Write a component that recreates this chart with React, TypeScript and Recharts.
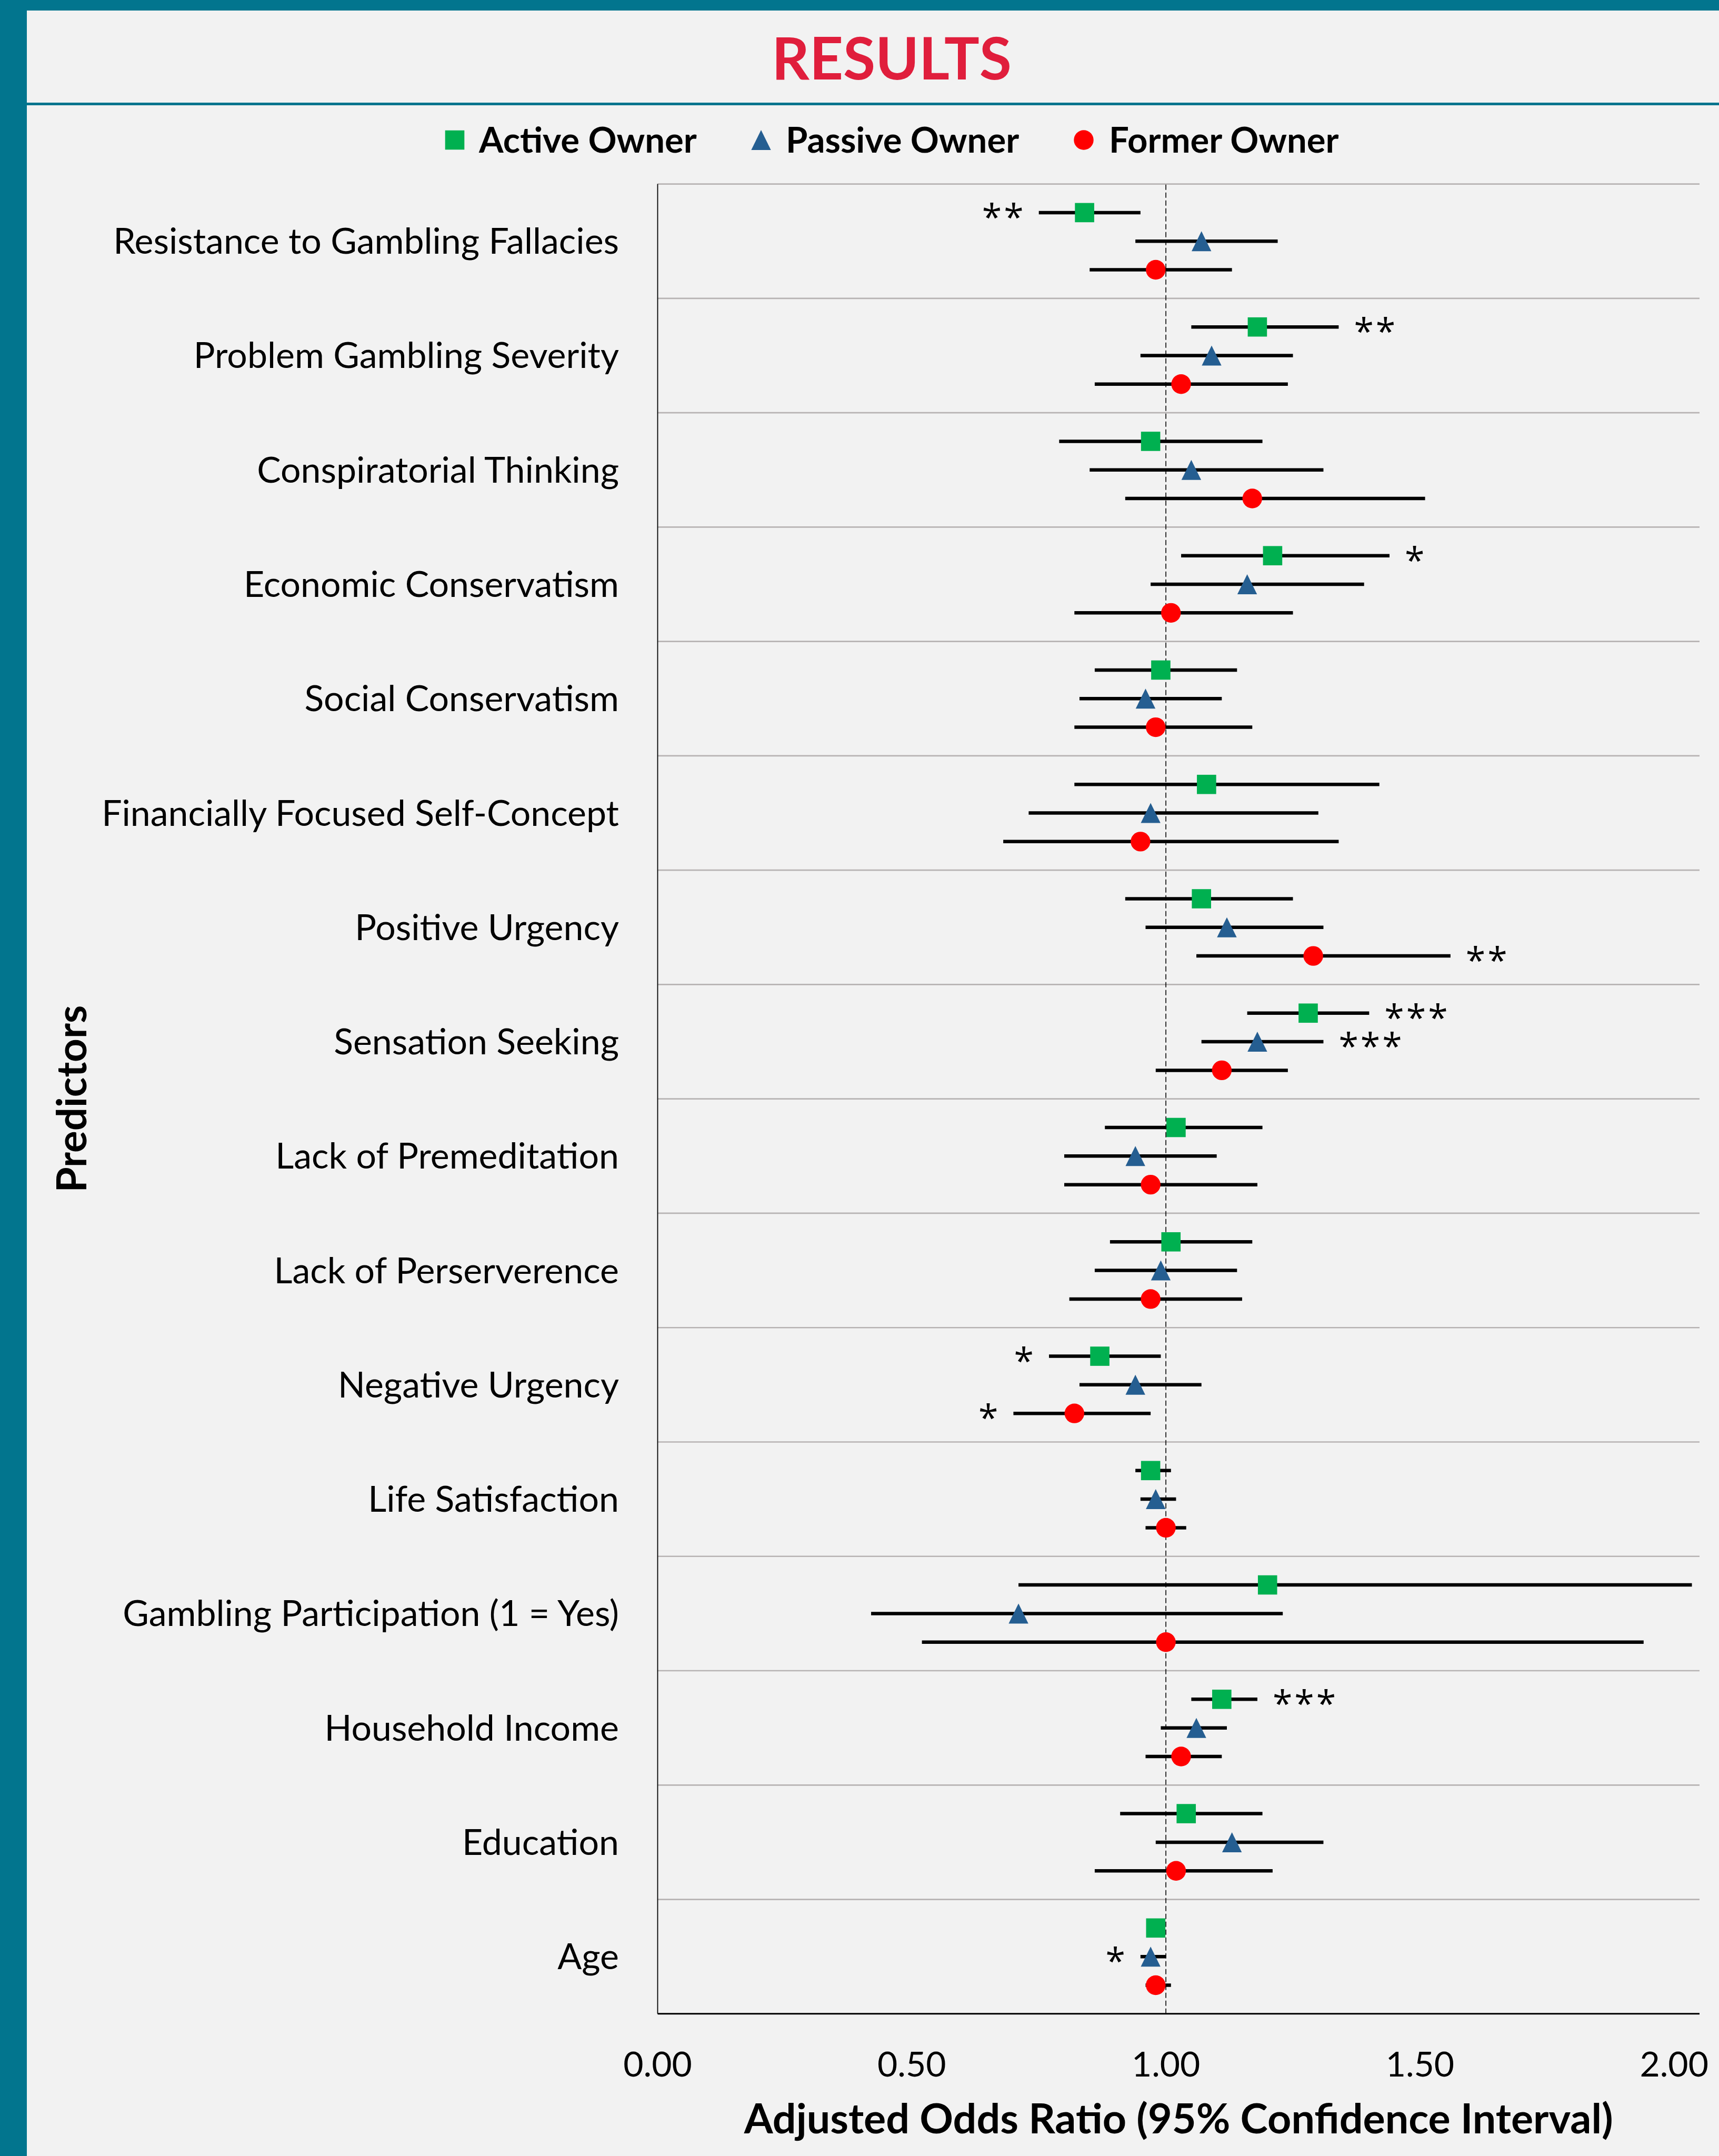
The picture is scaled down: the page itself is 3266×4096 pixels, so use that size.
import { ErrorBar, ReferenceLine, Scatter, ScatterChart, XAxis, YAxis } from 'recharts'

const predictors = [
	'Resistance to Gambling Fallacies',
	'Problem Gambling Severity',
	'Conspiratorial Thinking',
	'Economic Conservatism',
	'Social Conservatism',
	'Financially Focused Self-Concept',
	'Positive Urgency',
	'Sensation Seeking',
	'Lack of Premeditation',
	'Lack of Perserverence',
	'Negative Urgency',
	'Life Satisfaction',
	'Gambling Participation (1 = Yes)',
	'Household Income',
	'Education',
	'Age',
]

const activeOR = [0.84, 1.18, 0.97, 1.21, 0.99, 1.08, 1.07, 1.28, 1.02, 1.01, 0.87, 0.97, 1.2, 1.11, 1.04, 0.98]
const activeLo = [0.75, 1.05, 0.79, 1.03, 0.86, 0.82, 0.92, 1.16, 0.88, 0.89, 0.77, 0.94, 0.71, 1.05, 0.91, 0.965]
const activeHi = [0.95, 1.34, 1.19, 1.44, 1.14, 1.42, 1.25, 1.4, 1.19, 1.17, 0.99, 1.01, 2.035, 1.18, 1.19, 0.995]
const activeSig = ['**', '**', '', '*', '', '', '', '***', '', '', '*', '', '', '***', '', '']

const passiveOR = [1.07, 1.09, 1.05, 1.16, 0.96, 0.97, 1.12, 1.18, 0.94, 0.99, 0.94, 0.98, 0.71, 1.06, 1.13, 0.97]
const passiveLo = [0.94, 0.95, 0.85, 0.97, 0.83, 0.73, 0.96, 1.07, 0.8, 0.86, 0.83, 0.95, 0.42, 0.99, 0.98, 0.95]
const passiveHi = [1.22, 1.25, 1.31, 1.39, 1.11, 1.3, 1.31, 1.31, 1.1, 1.14, 1.07, 1.02, 1.23, 1.12, 1.31, 1.0]
const passiveSig = ['', '', '', '', '', '', '', '***', '', '', '', '', '', '', '', '*']

const formerOR = [0.98, 1.03, 1.17, 1.01, 0.98, 0.95, 1.29, 1.11, 0.97, 0.97, 0.82, 1.0, 1.0, 1.03, 1.02, 0.98]
const formerLo = [0.85, 0.86, 0.92, 0.82, 0.82, 0.68, 1.06, 0.98, 0.8, 0.81, 0.7, 0.96, 0.52, 0.96, 0.86, 0.96]
const formerHi = [1.13, 1.24, 1.51, 1.25, 1.17, 1.34, 1.56, 1.24, 1.18, 1.15, 0.97, 1.04, 1.94, 1.11, 1.21, 1.01]
const formerSig = ['', '', '', '', '', '', '**', '', '', '', '*', '', '', '', '', '']

const xTicks = [0, 0.5, 1, 1.5, 2]

const TEAL = '#02758E'
const GREEN = '#00B050'
const BLUE = '#255E91'
const RED = '#FF0000'
const FONT = 'Lato, "Open Sans", sans-serif'

// each predictor gets 4 units on the y axis, markers sit at 1, 2, 3
const ROW = 4
const series = [
	{ name: 'Active Owner', or: activeOR, lo: activeLo, hi: activeHi, sig: activeSig, slot: 1, color: GREEN },
	{ name: 'Passive Owner', or: passiveOR, lo: passiveLo, hi: passiveHi, sig: passiveSig, slot: 2, color: BLUE },
	{ name: 'Former Owner', or: formerOR, lo: formerLo, hi: formerHi, sig: formerSig, slot: 3, color: RED },
]

const points = series.map((s) =>
	s.or.map((v, i) => ({ x: v, y: i * ROW + s.slot, err: [v - s.lo[i], s.hi[i] - v] })),
)

const STAR_GAP = 0.03
const stars = series.flatMap((s) =>
	s.sig
		.map((sig, i) => ({
			x: s.or[i] < 1 ? s.lo[i] - STAR_GAP : s.hi[i] + STAR_GAP,
			y: i * ROW + s.slot,
			text: sig,
			anchor: s.or[i] < 1 ? 'end' : 'start',
		}))
		.filter((d) => d.text),
)

const yTicks = predictors.map((_, i) => i * ROW + 2)
const rowEdges = predictors.map((_, i) => i * ROW)

const M = 18.3

const Square = (p: any) => <rect x={p.cx - M} y={p.cy - M} width={M * 2} height={M * 2} fill={GREEN} />
const Triangle = (p: any) => (
	<polygon points={`${p.cx},${p.cy - 19} ${p.cx - 18.7},${p.cy + 19} ${p.cx + 18.7},${p.cy + 19}`} fill={BLUE} />
)
const Dot = (p: any) => <circle cx={p.cx} cy={p.cy} r={18.7} fill={RED} />
const shapes = [Square, Triangle, Dot]

const STAR_SPACING = 4
const Star = (p: any) => (
	<text
		x={p.cx}
		y={p.cy}
		dy={33}
		dx={p.payload.anchor === 'end' ? STAR_SPACING : 0}
		textAnchor={p.payload.anchor}
		fontSize={68}
		letterSpacing={STAR_SPACING}
		fontFamily='"Open Sans", sans-serif'
		fill='#000'
	>
		{p.payload.text}
	</text>
)

const YTick = (p: any) => (
	<text x={p.x} y={p.y} dy={24} textAnchor='end' fontSize={68} fontFamily={FONT} fill='#000'>
		{predictors[(p.payload.value - 2) / ROW]}
	</text>
)

const XTick = (p: any) => (
	<text x={p.x} y={p.y} dy={119} textAnchor='middle' fontSize={66} fontFamily={FONT} fill='#000'>
		{p.payload.value.toFixed(2)}
	</text>
)

const App = () => {
	return (
		<div
			style={{
				position: 'absolute',
				left: 0,
				top: 0,
				width: 3266,
				height: 4096,
				background: '#F2F2F2',
				overflow: 'hidden',
				fontFamily: FONT,
			}}
		>
			<div style={{ position: 'absolute', left: 0, top: 0, width: 3266, height: 20, background: TEAL }} />
			<div style={{ position: 'absolute', left: 0, top: 0, width: 50.5, height: 4096, background: TEAL }} />
			<div style={{ position: 'absolute', left: 50.5, top: 194.5, width: 3216, height: 5, background: TEAL }} />
			<svg width={3266} height={360} style={{ position: 'absolute', left: 0, top: 0 }}>
				<text x={1694} y={150.6} textAnchor='middle' fontSize={111.5} fontWeight={700} fill='#E01E3C' fontFamily={FONT}>
					RESULTS
				</text>
				<rect x={864 - M} y={266 - M} width={M * 2} height={M * 2} fill={GREEN} />
				<text x={910} y={290} fontSize={67} fontWeight={700} fontFamily={FONT}>
					Active Owner
				</text>
				<polygon points='1446,247 1427.3,285 1464.7,285' fill={BLUE} />
				<text x={1493} y={290} fontSize={67} fontWeight={700} fontFamily={FONT}>
					Passive Owner
				</text>
				<circle cx={2059} cy={266} r={18.7} fill={RED} />
				<text x={2107} y={290} fontSize={67} fontWeight={700} fontFamily={FONT}>
					Former Owner
				</text>
			</svg>
			<div style={{ position: 'absolute', left: 0, top: 0 }}>
				<ScatterChart width={3266} height={4096} margin={{ top: 349.6, right: 37, bottom: 70.2, left: 50.5 }}>
					<XAxis
						type='number'
						dataKey='x'
						domain={[0, 2.05]}
						ticks={xTicks}
						interval={0}
						height={200}
						tickSize={0}
						tickMargin={0}
						tickLine={false}
						axisLine={{ stroke: '#000', strokeWidth: 3 }}
						tick={<XTick />}
						label={{
							content: ({ viewBox }: any) => (
								<text
									x={viewBox.x + viewBox.width / 2}
									y={viewBox.y + 227}
									textAnchor='middle'
									fontSize={79}
									fontWeight={700}
									fontFamily={FONT}
									fill='#000'
								>
									Adjusted Odds Ratio (95% Confidence Interval)
								</text>
							),
						}}
					/>
					<YAxis
						type='number'
						dataKey='y'
						domain={[0, predictors.length * ROW]}
						reversed
						ticks={yTicks}
						interval={0}
						width={1199}
						tickSize={0}
						tickMargin={73.5}
						tickLine={false}
						axisLine={{ stroke: '#000', strokeWidth: 1.8 }}
						tick={<YTick />}
						label={{
							content: ({ viewBox }: any) => {
								const lx = viewBox.x + 113.5
								const ly = viewBox.y + viewBox.height / 2
								return (
									<text
										x={lx}
										y={ly}
										transform={`rotate(-90, ${lx}, ${ly})`}
										textAnchor='middle'
										fontSize={78}
										fontWeight={700}
										fontFamily={FONT}
										fill='#000'
									>
										Predictors
									</text>
								)
							},
						}}
					/>
					{rowEdges.map((v) => (
						<ReferenceLine key={v} y={v} stroke='#B7B3B3' strokeWidth={2.7} />
					))}
					<ReferenceLine x={1} stroke='#000' strokeWidth={1.6} strokeDasharray='10 5' />
					{series.map((s, k) => (
						<Scatter key={s.name} name={s.name} data={points[k]} shape={shapes[k]} isAnimationActive={false}>
							<ErrorBar dataKey='err' direction='x' width={0} stroke='#000' strokeWidth={6.5} />
						</Scatter>
					))}
					<Scatter name='sig' data={stars} shape={Star} isAnimationActive={false} />
				</ScatterChart>
			</div>
		</div>
	)
}

export default App
